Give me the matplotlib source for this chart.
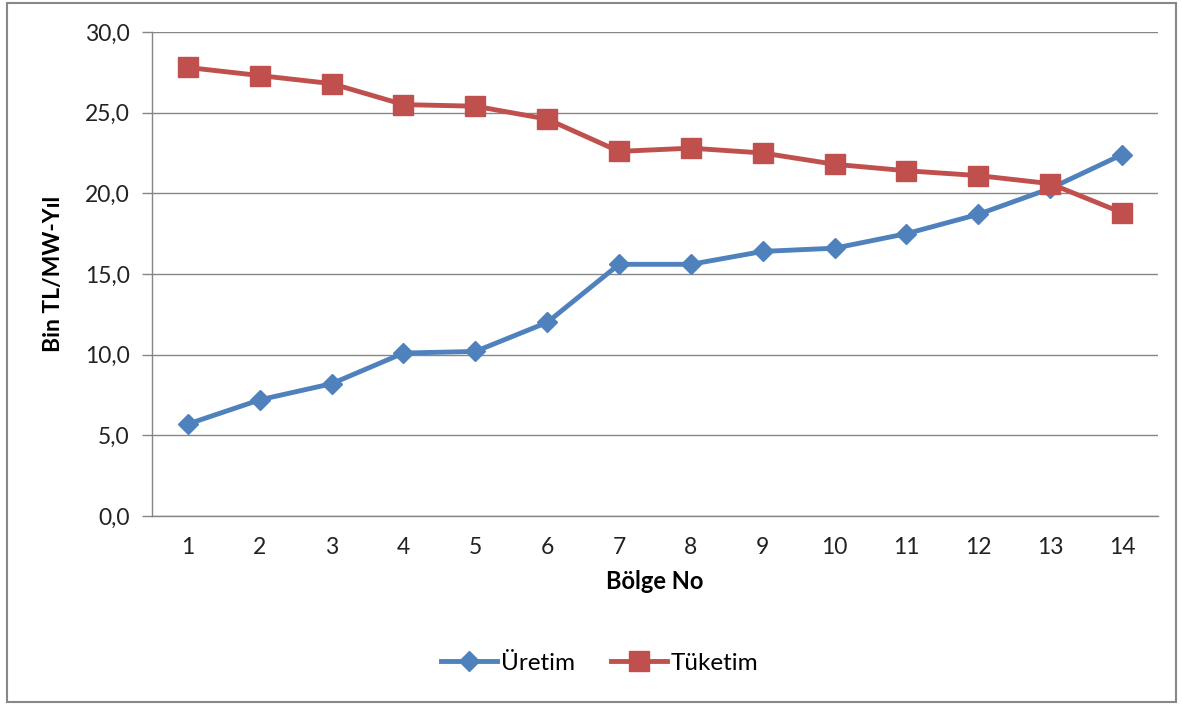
import matplotlib.pyplot as plt
from matplotlib.patches import Rectangle
from matplotlib.ticker import FuncFormatter

plt.rcParams['font.family'] = ['Lato', 'DejaVu Sans']

bolge = list(range(1, 15))
uretim = [5.7, 7.2, 8.2, 10.1, 10.2, 12.0, 15.6, 15.6, 16.4, 16.6, 17.5, 18.7, 20.3, 22.4]
tuketim = [27.8, 27.3, 26.8, 25.5, 25.4, 24.6, 22.6, 22.8, 22.5, 21.8, 21.4, 21.1, 20.6, 18.8]

W, H = 1182, 704
fig = plt.figure(figsize=(W / 100, H / 100), dpi=100)
ax = fig.add_axes([152 / W, 1 - 516 / H, (1158 - 152) / W, (516 - 32) / H])

ax.plot(bolge, uretim, color='#4F81BD', lw=3.5, marker='D', markersize=10.5,
        label='Üretim', zorder=3)
ax.plot(bolge, tuketim, color='#C0504D', lw=3.5, marker='s', markersize=14,
        label='Tüketim', zorder=3)

ax.set_xlim(0.5, 14.5)
ax.set_ylim(0, 30)
ax.set_xticks(bolge)
ax.set_yticks([0, 5, 10, 15, 20, 25, 30])
ax.yaxis.set_major_formatter(FuncFormatter(lambda v, p: f"{v:.1f}".replace('.', ',')))
ax.tick_params(axis='x', length=0, pad=15, labelsize=16.5, colors='#222222')
ax.tick_params(axis='y', length=7, width=1, color='#868686', pad=9,
               labelsize=16.5, labelcolor='#222222')
ax.grid(axis='y', color='#868686', lw=1)
ax.set_axisbelow(True)
for s in ['top', 'right']:
    ax.spines[s].set_visible(False)
for s in ['left', 'bottom']:
    ax.spines[s].set_color('#868686')
    ax.spines[s].set_linewidth(1)

ax.set_xlabel('Bölge No', fontsize=17, fontweight='bold', labelpad=9)
ax.set_ylabel('Bin TL/MW-Yıl', fontsize=16.5, fontweight='bold', labelpad=15)

fig.legend(loc='center', bbox_to_anchor=(600 / W, 1 - 663 / H), ncol=2,
           frameon=False, fontsize=17.5, handlelength=2.3, columnspacing=1.5,
           handletextpad=0.15)

fig.patches.append(Rectangle((7 / W, 1 - 702 / H), (1176 - 7) / W, (702 - 3) / H,
                             transform=fig.transFigure, fill=False,
                             edgecolor='#888888', lw=1.5))

fig.savefig('out.png', dpi=100)
